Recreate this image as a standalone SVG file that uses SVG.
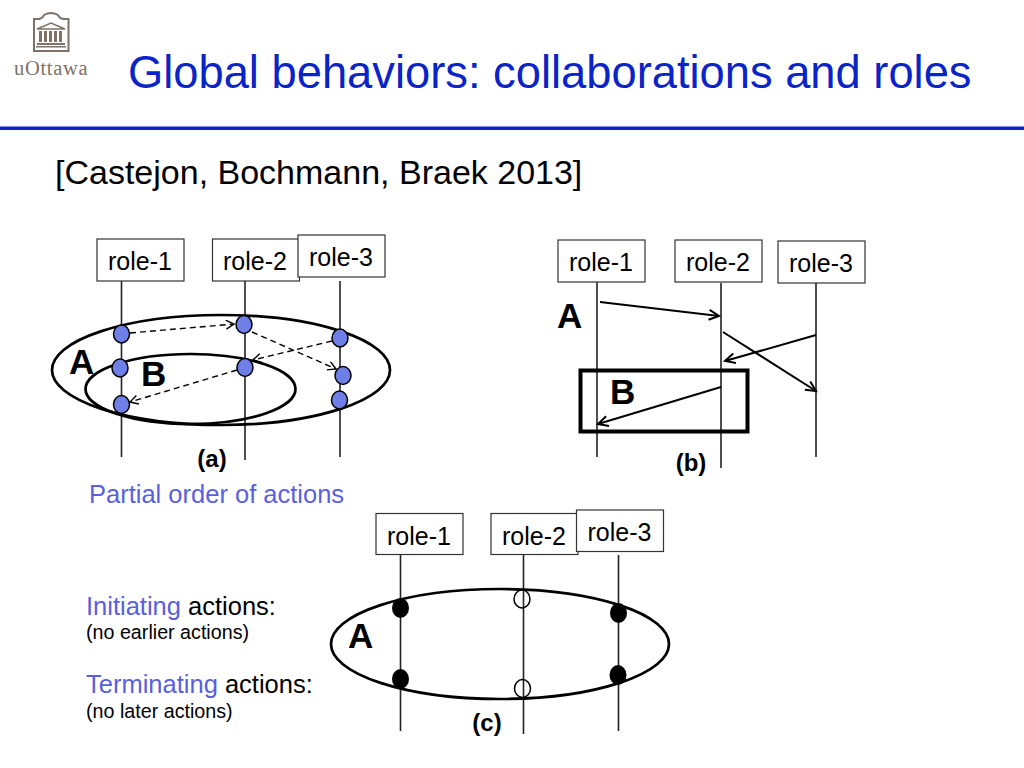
<svg xmlns="http://www.w3.org/2000/svg" width="1024" height="768" viewBox="0 0 1024 768">
<style>
text{font-family:"Liberation Sans",Arial,sans-serif;fill:#000}
.title{font-size:45.300px;fill:#0a24c8}
.sub{font-size:34px}
.role{font-size:25px;text-anchor:middle}
.big{font-size:35px;font-weight:bold}
.cap{font-size:24px;font-weight:bold;text-anchor:middle}
.body{font-size:25.500px}
.small{font-size:19.700px}
.acc{fill:#5a5fe0}
.box{fill:#fff;stroke:#333;stroke-width:1.2}
.life{stroke:#222;stroke-width:1.6;fill:none}
.ell{fill:none;stroke:#000;stroke-width:2.700}
.dot{fill:#6f7fe8;stroke:#000;stroke-width:1.5}
.blk{fill:#000}
.open{fill:none;stroke:#000;stroke-width:1.5}
.dash{stroke:#000;stroke-width:1.4;stroke-dasharray:6 4;fill:none;marker-end:url(#oa)}
.sol{stroke:#000;stroke-width:2;fill:none;marker-end:url(#ob)}
.logo{fill:none;stroke:#7d7168;stroke-width:1.6}
.logof{fill:#7d7168}
</style>
<defs>
<marker id="oa" markerUnits="userSpaceOnUse" markerWidth="12" markerHeight="12" refX="9" refY="5" orient="auto"><path d="M1,0.5L9,5L1,9.500" fill="none" stroke="#000" stroke-width="1.4"/></marker>
<marker id="ob" markerUnits="userSpaceOnUse" markerWidth="14" markerHeight="14" refX="11" refY="6" orient="auto"><path d="M1,1L11,6L1,11" fill="none" stroke="#000" stroke-width="2"/></marker>
</defs>
<g id="logo">
<path class="logo" style="stroke-width:2" d="M34,51V19H39Q43,18 44,15Q51,11 58,15Q59,18 63,19H68.500V51Z"/>
<path class="logo" d="M37,29L51,23L65,29Z"/>
<path class="logof" d="M39,31h3v11h-3zM44,31h3v11h-3zM49,31h3v11h-3zM54,31h3v11h-3zM59,31h3v11h-3zM37,43h28v2h-28zM36,46h30v1.500h-30z"/>
<text x="14" y="75" style="font-family:'Liberation Serif',serif;font-size:20.500px;letter-spacing:.7px;fill:#7d7168">uOttawa</text>
</g>
<text class="title" x="128" y="87.500">Global behaviors: collaborations and roles</text>
<rect x="0" y="126.500" width="1024" height="3.500" fill="#0a24c8"/>
<text class="sub" x="55" y="183.500">[Castejon, Bochmann, Braek 2013]</text>
<g id="connectors">
<path class="life" d="M121.500,281V457M245,276V460M340,281V457"/>
<path class="life" d="M597,282V457M721,283V468M816,282V457"/>
<path class="life" d="M400.500,555V731M523.500,550V734M618.500,555V731"/>
<path class="dash" d="M130,333L234,324"/>
<path class="dash" d="M252,332L336,369"/>
<path class="dash" d="M332,341L253,360"/>
<path class="dash" d="M237,370L130,402"/>
<path class="sol" d="M600,302L719,316"/>
<path class="sol" d="M816,335L725,361"/>
<path class="sol" d="M723,332L816,391"/>
<path class="sol" d="M721,387L598,424"/>
</g>
<g id="a-role-1"><rect class="box" x="97" y="239" width="87" height="42"/><text class="role" x="140" y="270">role-1</text></g>
<g id="a-role-2"><rect class="box" x="212.500" y="239" width="87" height="42"/><text class="role" x="255" y="270">role-2</text></g>
<g id="a-role-3"><rect class="box" x="298" y="235" width="87" height="42"/><text class="role" x="341" y="266">role-3</text></g>
<g id="a-A"><ellipse class="ell" cx="221" cy="370" rx="169" ry="55"/><text class="big" x="69" y="374">A</text></g>
<g id="a-B"><ellipse class="ell" cx="190.500" cy="389" rx="105" ry="35"/><text class="big" x="141" y="386">B</text></g>
<g id="a-dots">
<ellipse class="dot" cx="121.500" cy="334" rx="8" ry="9"/>
<ellipse class="dot" cx="244" cy="324.500" rx="8" ry="9"/>
<ellipse class="dot" cx="340" cy="338" rx="8" ry="9"/>
<ellipse class="dot" cx="120" cy="368" rx="8" ry="9"/>
<ellipse class="dot" cx="245" cy="367.500" rx="8" ry="9"/>
<ellipse class="dot" cx="343" cy="375.500" rx="8" ry="9"/>
<ellipse class="dot" cx="121.500" cy="404.500" rx="8" ry="9"/>
<ellipse class="dot" cx="339.500" cy="400" rx="8" ry="9"/>
</g>
<text class="cap" x="212" y="467">(a)</text>
<text class="body acc" x="89" y="503">Partial order of actions</text>
<g id="b-role-1"><rect class="box" x="558" y="240" width="87" height="42"/><text class="role" x="601" y="271">role-1</text></g>
<g id="b-role-2"><rect class="box" x="675" y="240" width="87" height="42"/><text class="role" x="718" y="271">role-2</text></g>
<g id="b-role-3"><rect class="box" x="778" y="241" width="87" height="42"/><text class="role" x="821" y="272">role-3</text></g>
<text class="big" x="557" y="328">A</text>
<g id="b-B"><rect x="580.500" y="370.500" width="167" height="61" fill="none" stroke="#000" stroke-width="4"/><text class="big" x="610" y="404">B</text></g>
<text class="cap" x="691" y="471">(b)</text>
<g id="c-role-1"><rect class="box" x="376" y="513.500" width="87" height="41"/><text class="role" x="419" y="545">role-1</text></g>
<g id="c-role-2"><rect class="box" x="491" y="513.500" width="87" height="41"/><text class="role" x="534" y="545">role-2</text></g>
<g id="c-role-3"><rect class="box" x="576.500" y="510" width="87" height="41.500"/><text class="role" x="619.500" y="541">role-3</text></g>
<g id="c-A"><ellipse class="ell" cx="500" cy="644" rx="169" ry="55"/><text class="big" x="348" y="648">A</text></g>
<g id="c-dots">
<ellipse class="blk" cx="400.500" cy="608" rx="8.500" ry="10"/>
<ellipse class="blk" cx="400.500" cy="679" rx="8.500" ry="10"/>
<ellipse class="blk" cx="618.500" cy="613" rx="8.500" ry="10"/>
<ellipse class="blk" cx="618" cy="675" rx="8.500" ry="10"/>
<ellipse class="open" cx="522" cy="599" rx="8" ry="9"/>
<ellipse class="open" cx="522.500" cy="688.500" rx="8" ry="9"/>
</g>
<text class="cap" x="487" y="731">(c)</text>
<text class="body" x="86" y="614.500"><tspan class="acc">Initiating</tspan> actions:</text>
<text class="small" x="86" y="639">(no earlier actions)</text>
<text class="body" x="86" y="692.500"><tspan class="acc">Terminating</tspan> actions:</text>
<text class="small" x="86" y="717.500">(no later actions)</text>
</svg>
